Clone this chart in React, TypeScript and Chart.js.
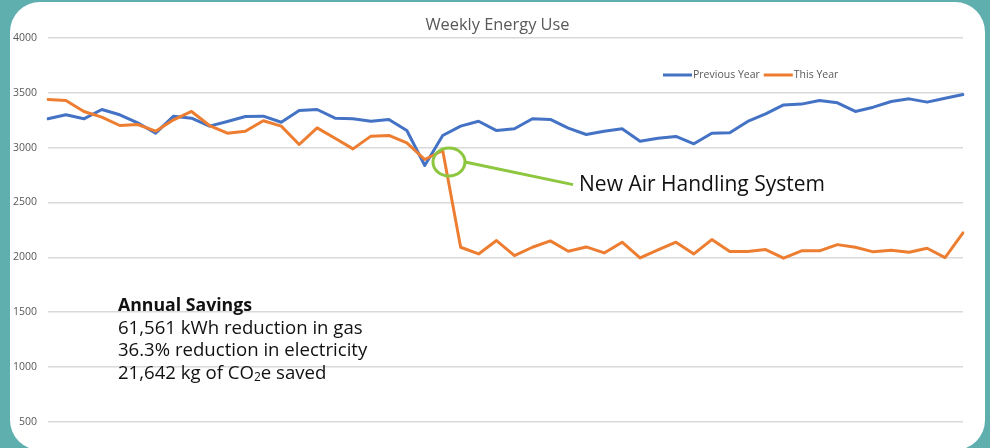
import React, { useEffect, useRef } from "react";
import { Chart, registerables } from "chart.js";

Chart.register(...registerables);

const weeks = [
  "1", "2", "3", "4", "5", "6", "7", "8", "9", "10", "11", "12", "13",
  "14", "15", "16", "17", "18", "19", "20", "21", "22", "23", "24", "25", "26",
  "27", "28", "29", "30", "31", "32", "33", "34", "35", "36", "37", "38", "39",
  "40", "41", "42", "43", "44", "45", "46", "47", "48", "49", "50", "51", "52",
];

const previousYear = [
  3263, 3300, 3263, 3348, 3300, 3227, 3132, 3287, 3269, 3196, 3239, 3284, 3287,
  3232, 3339, 3348, 3269, 3263, 3241, 3257, 3156, 2837, 3111, 3196, 3241, 3156,
  3172, 3263, 3257, 3178, 3120, 3150, 3172, 3059, 3086, 3102, 3035, 3132, 3135,
  3239, 3308, 3390, 3397, 3430, 3409, 3330, 3369, 3421, 3445, 3415, 3451, 3485,
];

const thisYear = [
  3439, 3430, 3330, 3278, 3202, 3211, 3150, 3254, 3330, 3202, 3132, 3150, 3245,
  3196, 3029, 3180, 3086, 2989, 3105, 3111, 3044, 2892, 2974, 2092, 2031, 2153,
  2016, 2092, 2150, 2056, 2095, 2040, 2138, 1995, 2068, 2138, 2031, 2162, 2053,
  2053, 2071, 1992, 2059, 2059, 2116, 2092, 2050, 2065, 2047, 2083, 1998, 2223,
];

const seriesNames = ["Previous Year", "This Year"];
const yTicks = [0, 500, 1000, 1500, 2000, 2500, 3000, 3500, 4000];

const chartTitle = "Weekly Energy Use";
const calloutText = "New Air Handling System";
// annotation anchors in data units (category index, value)
const calloutCircle = { x: 22.35, y: 2870 };
const calloutLabel = { x: 29.6, y: 2663 };
const savingsAnchor = { x: 3.9, y: 1559 };
const savingsTitle = "Annual Savings";
const savingsLines = [
  "61,561 kWh reduction in gas",
  "36.3% reduction in electricity",
];
const co2Line = ["21,642 kg of CO", "2", "e saved"];

const BLUE = "#4472c4";
const ORANGE = "#ed7d31";
const GREEN = "#8dc63f";
const FONT = "'Open Sans', sans-serif";

const legendPlugin = {
  id: "customLegend",
  afterDraw(chart: any) {
    const { ctx } = chart;
    ctx.save();
    ctx.font = `10.5px ${FONT}`;
    ctx.textBaseline = "middle";
    ctx.textAlign = "left";
    let x = 663;
    const y = 75;
    chart.data.datasets.forEach((ds: any) => {
      ctx.strokeStyle = ds.borderColor;
      ctx.lineWidth = 3;
      ctx.lineCap = "butt";
      ctx.beginPath();
      ctx.moveTo(x, y);
      ctx.lineTo(x + 29, y);
      ctx.stroke();
      x += 30;
      ctx.fillStyle = "#595959";
      ctx.fillText(ds.label, x, y);
      x += ctx.measureText(ds.label).width + 4;
    });
    ctx.restore();
  },
};

const notesPlugin = {
  id: "notes",
  afterDatasetsDraw(chart: any) {
    const { ctx } = chart;
    const xs = chart.scales.x;
    const ys = chart.scales.y;
    ctx.save();
    // callout circle
    const cx = xs.getPixelForValue(calloutCircle.x);
    const cy = ys.getPixelForValue(calloutCircle.y);
    const rx = 16;
    const ry = 14;
    ctx.strokeStyle = GREEN;
    ctx.lineWidth = 3;
    ctx.beginPath();
    ctx.ellipse(cx, cy, rx, ry, 0, 0, Math.PI * 2);
    ctx.stroke();
    // pointer line
    const lx = xs.getPixelForValue(calloutLabel.x);
    const ly = ys.getPixelForValue(calloutLabel.y);
    ctx.beginPath();
    ctx.moveTo(cx + rx, cy);
    ctx.lineTo(lx - 6, ly);
    ctx.stroke();
    // callout text
    ctx.fillStyle = "#111111";
    ctx.font = `21px ${FONT}`;
    ctx.textBaseline = "middle";
    ctx.textAlign = "left";
    ctx.fillText(calloutText, lx, ly);

    // savings block
    const sx = xs.getPixelForValue(savingsAnchor.x);
    let sy = ys.getPixelForValue(savingsAnchor.y);
    const lh = 22.7;
    ctx.font = `bold 17.7px ${FONT}`;
    ctx.fillText(savingsTitle, sx, sy);
    ctx.font = `18.6px ${FONT}`;
    savingsLines.forEach((t) => {
      sy += lh;
      ctx.fillText(t, sx, sy);
    });
    sy += lh;
    let tx = sx;
    ctx.fillText(co2Line[0], tx, sy);
    tx += ctx.measureText(co2Line[0]).width;
    ctx.font = `12px ${FONT}`;
    ctx.fillText(co2Line[1], tx, sy + 4);
    tx += ctx.measureText(co2Line[1]).width;
    ctx.font = `18.6px ${FONT}`;
    ctx.fillText(co2Line[2], tx, sy);
    ctx.restore();
  },
};

export default function App() {
  const ref = useRef<HTMLCanvasElement>(null);

  useEffect(() => {
    if (!ref.current) return;
    const chart = new Chart(ref.current, {
      type: "line",
      data: {
        labels: weeks,
        datasets: [
          {
            label: seriesNames[0],
            data: previousYear,
            borderColor: BLUE,
            backgroundColor: BLUE,
            borderWidth: 3,
            pointRadius: 0,
            tension: 0,
            borderJoinStyle: "round",
            borderCapStyle: "round",
            order: 1,
          },
          {
            label: seriesNames[1],
            data: thisYear,
            borderColor: ORANGE,
            backgroundColor: ORANGE,
            borderWidth: 3,
            pointRadius: 0,
            tension: 0,
            borderJoinStyle: "round",
            borderCapStyle: "round",
            order: 0,
          },
        ],
      },
      options: {
        animation: false,
        responsive: false,
        devicePixelRatio: 1,
        layout: { padding: { left: 5, right: 0, top: 0, bottom: 3.6 } },
        plugins: {
          legend: { display: false },
          tooltip: { enabled: false },
          title: {
            display: true,
            text: chartTitle,
            color: "#595959",
            font: { family: FONT, size: 16.4, weight: "normal" },
            padding: { top: 15, bottom: 3.3 },
          },
        },
        scales: {
          x: { type: "category", display: false, offset: false },
          y: {
            min: 0,
            max: 4000,
            afterBuildTicks: (s: any) => {
              s.ticks = yTicks.map((v) => ({ value: v }));
            },
            ticks: {
              color: "#595959",
              font: { family: FONT, size: 10.5 },
              padding: 11,
              callback: (v: any) => String(v),
            },
            grid: { color: "#d9d9d9", lineWidth: 1.5, drawTicks: false },
            border: { display: false },
            afterFit: (s: any) => {
              s.width = 43;
            },
          },
          yRight: {
            position: "right",
            display: true,
            grid: { display: false, drawTicks: false },
            ticks: { display: false },
            border: { display: false },
            afterFit: (s: any) => {
              s.width = 27;
            },
          },
        },
      },
      plugins: [legendPlugin, notesPlugin],
    } as any);
    return () => chart.destroy();
  }, []);

  return (
    <div
      style={{
        position: "fixed",
        left: 0,
        top: 0,
        width: 990,
        height: 448,
        background: "#5fafaf",
        overflow: "hidden",
      }}
    >
      <div
        style={{
          position: "absolute",
          left: 10,
          top: 2,
          width: 975,
          height: 448,
          borderRadius: 30,
          background: "#ffffff",
          overflow: "hidden",
        }}
      >
        <div style={{ position: "absolute", left: -10, top: -2, width: 990, height: 494 }}>
          <canvas ref={ref} width={990} height={494} style={{ display: "block" }} />
        </div>
      </div>
    </div>
  );
}
